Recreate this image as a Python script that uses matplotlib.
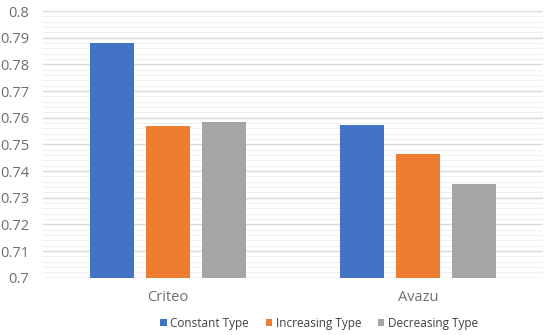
import matplotlib
matplotlib.use('Agg')
import matplotlib.pyplot as plt
import numpy as np

categories = ['Criteo', 'Avazu']
series_names = ['Constant Type', 'Increasing Type', 'Decreasing Type']
constant_vals = [0.7881, 0.7574]
increasing_vals = [0.7568, 0.7463]
decreasing_vals = [0.7585, 0.7351]
y_ticks = [0.7, 0.71, 0.72, 0.73, 0.74, 0.75, 0.76, 0.77, 0.78, 0.79, 0.8]
y_tick_labels = ['0.7', '0.71', '0.72', '0.73', '0.74', '0.75', '0.76', '0.77', '0.78', '0.79', '0.8']

COLORS = ['#4472C4', '#ED7D31', '#A5A5A5']
TEXT_COLOR = '#6E6E6E'

plt.rcParams['font.family'] = ['Open Sans', 'DejaVu Sans']

fig = plt.figure(figsize=(5.5, 3.35), dpi=100)
ax = fig.add_axes([43 / 550, 1 - 277.7 / 335, 500 / 550, 266.7 / 335])

x = np.arange(len(categories))
width = 0.174
step = 0.224
series = [constant_vals, increasing_vals, decreasing_vals]
handles = []
for i, vals in enumerate(series):
    b = ax.bar(x + (i - 1) * step, vals, width, color=COLORS[i], label=series_names[i], zorder=3)
    handles.append(b)

ax.set_xlim(-0.5, 1.5)
ax.set_ylim(0.7, 0.8)
ax.set_yticks(y_ticks)
ax.set_yticklabels(y_tick_labels)
ax.set_yticks(np.arange(0.7, 0.8001, 0.002), minor=True)
ax.set_xticks(x)
ax.set_xticklabels(categories)
ax.tick_params(axis='both', length=0, labelsize=10.5, colors=TEXT_COLOR)
ax.tick_params(axis='y', which='minor', length=0)
ax.tick_params(axis='x', pad=9)
ax.tick_params(axis='y', pad=10)

ax.grid(axis='y', which='major', color='#D9D9D9', linewidth=1.0, zorder=0)
ax.grid(axis='y', which='minor', color='#F0F0F0', linewidth=0.8, zorder=0)
for s in ax.spines.values():
    s.set_visible(False)

fig.legend(handles=handles, labels=series_names, loc='center', bbox_to_anchor=(319 / 550, 1 - 323 / 335),
           ncol=3, frameon=False, fontsize=8.5, handlelength=0.55, handleheight=0.55,
           handletextpad=0.3, columnspacing=1.4, labelcolor='#404040')

fig.savefig('out.png', dpi=100)
